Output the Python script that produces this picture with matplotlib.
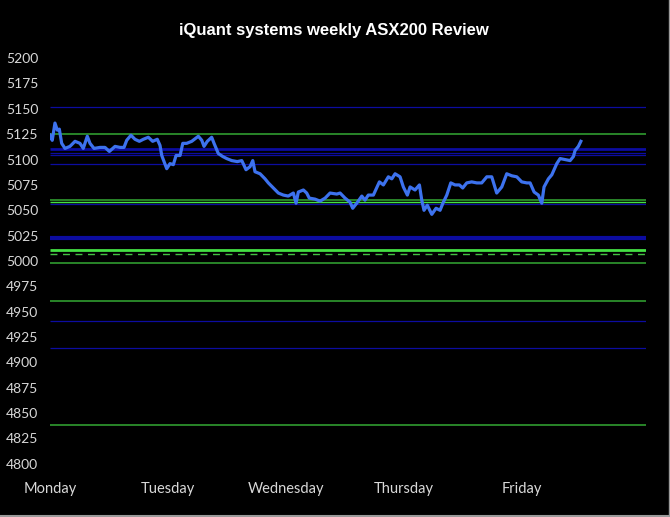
import matplotlib
matplotlib.use("Agg")
import matplotlib.pyplot as plt
from matplotlib.lines import Line2D

# ---- data ----
days = ["Monday", "Tuesday", "Wednesday", "Thursday", "Friday"]
y_ticks = [4800, 4825, 4850, 4875, 4900, 4925, 4950, 4975, 5000,
           5025, 5050, 5075, 5100, 5125, 5150, 5175, 5200]

t_days = [0.000, 0.019, 0.042, 0.062, 0.079, 0.099, 0.127, 0.169, 0.212, 0.254,
          0.282, 0.316, 0.339, 0.373, 0.424, 0.466, 0.503, 0.551, 0.593, 0.627,
          0.650, 0.686, 0.720, 0.757, 0.791, 0.833, 0.870, 0.909, 0.932, 0.947,
          0.966, 0.989, 1.017, 1.045, 1.068, 1.102, 1.125, 1.158, 1.201, 1.257,
          1.286, 1.305, 1.333, 1.370, 1.390, 1.426, 1.464, 1.497, 1.540, 1.587,
          1.625, 1.661, 1.695, 1.718, 1.737, 1.780, 1.822, 1.850, 1.892, 1.935,
          1.977, 2.019, 2.062, 2.085, 2.104, 2.147, 2.175, 2.197, 2.246, 2.288,
          2.331, 2.373, 2.430, 2.458, 2.500, 2.542, 2.565, 2.599, 2.642, 2.669,
          2.697, 2.740, 2.791, 2.825, 2.867, 2.896, 2.924, 2.966, 2.994, 3.028,
          3.051, 3.093, 3.130, 3.150, 3.169, 3.197, 3.235, 3.271, 3.305, 3.333,
          3.362, 3.396, 3.432, 3.469, 3.497, 3.531, 3.573, 3.616, 3.658, 3.701,
          3.743, 3.785, 3.828, 3.870, 3.913, 3.955, 3.997, 4.040, 4.068, 4.102,
          4.138, 4.167, 4.186, 4.223, 4.252, 4.294, 4.322, 4.364, 4.407, 4.435,
          4.449, 4.477, 4.498]
asx200 = [5124, 5119, 5136, 5129, 5130, 5116, 5111, 5113, 5118, 5116,
          5111, 5123, 5116, 5111, 5112, 5112, 5108, 5113, 5112, 5112,
          5119, 5124, 5120, 5118, 5120, 5122, 5118, 5120, 5114, 5104,
          5098, 5091, 5096, 5095, 5104, 5104, 5116, 5116, 5118, 5123,
          5119, 5113, 5118, 5122, 5116, 5106, 5103, 5101, 5099, 5098,
          5099, 5090, 5093, 5099, 5088, 5086, 5081, 5077, 5072, 5067,
          5065, 5064, 5067, 5057, 5068, 5070, 5067, 5062, 5061, 5059,
          5062, 5067, 5066, 5067, 5062, 5058, 5052, 5057, 5064, 5060,
          5065, 5065, 5078, 5075, 5083, 5081, 5086, 5083, 5073, 5065,
          5073, 5070, 5075, 5060, 5050, 5055, 5046, 5052, 5050, 5058,
          5065, 5077, 5075, 5075, 5072, 5077, 5078, 5077, 5077, 5083,
          5083, 5067, 5073, 5086, 5084, 5083, 5078, 5077, 5077, 5068,
          5065, 5057, 5073, 5081, 5085, 5096, 5101, 5100, 5099, 5103,
          5109, 5113, 5118]

blue_levels = [5152, 5110.7, 5106.7, 5104.2, 5095.3, 5056, 5023, 4941, 4914]
green_levels = [5125, 5060, 4998, 4960.5, 4838.5]
bright_green_levels = [5057.8, 5011.2]
dashed_green_levels = [5006.6]

# ---- styling ----
BG = "black"
fig = plt.figure(figsize=(6.7, 5.17), dpi=100, facecolor=BG)
ax = fig.add_axes([50 / 670, 43 / 517, 596 / 670, 426 / 517])
ax.set_facecolor(BG)

x0, x1 = 0, 5.05
blue_lw = {5110.7: 2.0, 5023: 3.0}
for v in blue_levels:
    ax.hlines(v, x0, x1, color="#0c0ca0", lw=blue_lw.get(v, 0.9), zorder=1)
for v in green_levels:
    ax.hlines(v, x0, x1, color="#2f9c2f", lw=1.2, zorder=1)
for v in bright_green_levels:
    lw = 2.0 if v < 5050 else 1.0
    ax.hlines(v, x0, x1, color="#44e044", lw=lw, zorder=1)
for v in dashed_green_levels:
    ax.hlines(v, x0, x1, color="#44c044", lw=1.0, linestyles=(0, (5, 4)), zorder=1)

ax.plot(t_days, asx200, color="#3d72ee", lw=2.3, zorder=3)

ax.set_xlim(x0, x1)
ax.set_ylim(4790, 5210)
ax.set_yticks(y_ticks)
ax.set_yticklabels([str(v) for v in y_ticks])
ax.set_xticks(range(len(days)))
ax.set_xticklabels(days)
ax.tick_params(axis="both", length=0, colors="#d8d8d8", labelsize=10.5)
ax.tick_params(axis="y", pad=8.5, labelsize=10)
ax.tick_params(axis="x", pad=6)
for lab in ax.get_xticklabels() + ax.get_yticklabels():
    lab.set_family("Lato")
for s in ax.spines.values():
    s.set_visible(False)

fig.text(334 / 670, 1 - 30 / 517, "iQuant systems weekly ASX200 Review",
         color="white", fontsize=12, fontweight="bold",
         family="Liberation Sans", ha="center", va="center")

# thin frame on bottom and right edge
fig.add_artist(Line2D([0, 1], [0.002, 0.002], transform=fig.transFigure,
                      color="#9a9a9a", lw=1.5))
fig.add_artist(Line2D([0.998, 0.998], [0, 1], transform=fig.transFigure,
                      color="#9a9a9a", lw=1.0))

fig.savefig("out.png", dpi=100, facecolor=BG)
